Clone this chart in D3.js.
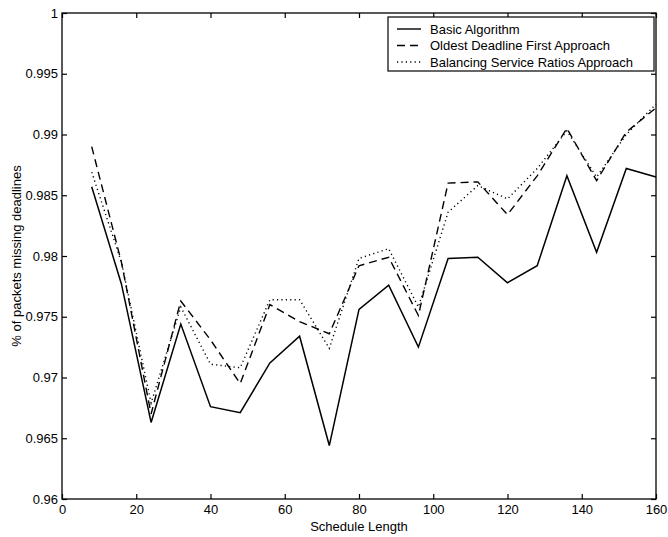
<html>
<head>
<title>packets missing deadlines</title>
<style>
  body { margin: 0; background: #fff; }
  text { font-family: "Liberation Sans", Arial, sans-serif; fill: #000; }
</style>
</head>
<body>
<script src="https://cdn.jsdelivr.net/npm/d3@7"></script>
<script>
// schedule lengths (x)
var scheduleLength = [8, 16, 24, 32, 40, 48, 56, 64, 72, 80, 88, 96, 104, 112, 120, 128, 136, 144, 152, 160];
// series values
var basicAlgorithm = [0.9857, 0.9777, 0.9663, 0.9744, 0.9676, 0.9671, 0.9712, 0.9734, 0.9644, 0.9756,
                      0.9776, 0.9725, 0.9798, 0.9799, 0.9778, 0.9792, 0.9866, 0.9803, 0.9872, 0.9865];
var oldestDeadline = [0.9890, 0.9795, 0.9670, 0.9763, 0.9731, 0.9695, 0.9760, 0.9746, 0.9736, 0.9792,
                      0.9799, 0.9751, 0.9860, 0.9861, 0.9834, 0.9866, 0.9905, 0.9862, 0.9902, 0.9922];
var balancingRatios = [0.9869, 0.9795, 0.9679, 0.9758, 0.9711, 0.9708, 0.9764, 0.9764, 0.9724, 0.9798,
                       0.9806, 0.9758, 0.9836, 0.9858, 0.9847, 0.9872, 0.9903, 0.9865, 0.9900, 0.9925];
var seriesNames = ["Basic Algorithm", "Oldest Deadline First Approach", "Balancing Service Ratios Approach"];
var xTicks = [0, 20, 40, 60, 80, 100, 120, 140, 160];
var yTicks = [0.96, 0.965, 0.97, 0.975, 0.98, 0.985, 0.99, 0.995, 1];

var width = 668, height = 537;
var margin = {top: 13, right: 12, bottom: 38, left: 62};

var svg = d3.select("body").append("svg").attr("width", width).attr("height", height);

var x = d3.scaleLinear().domain([0, 160]).range([margin.left, width - margin.right]);
var y = d3.scaleLinear().domain([0.96, 1]).range([height - margin.bottom, margin.top]);

var fmt = function(d){ return d == 1 ? "1" : String(+d.toFixed(3)); };

// frame
svg.append("rect")
  .attr("x", margin.left).attr("y", margin.top)
  .attr("width", x(160) - x(0)).attr("height", y(0.96) - y(1))
  .attr("fill", "none").attr("stroke", "#000").attr("stroke-width", 1.3);

// axes, ticks pointing inward (top/right too)
var xb = svg.append("g").attr("transform", "translate(0," + y(0.96) + ")")
  .call(d3.axisBottom(x).tickValues(xTicks).tickSize(-5).tickPadding(6).tickFormat(d3.format("d")));
var xt = svg.append("g").attr("transform", "translate(0," + y(1) + ")")
  .call(d3.axisTop(x).tickValues(xTicks).tickSize(-5).tickFormat(""));
var yl = svg.append("g").attr("transform", "translate(" + x(0) + ",0)")
  .call(d3.axisLeft(y).tickValues(yTicks).tickSize(-5).tickPadding(4).tickFormat(fmt));
var yr = svg.append("g").attr("transform", "translate(" + x(160) + ",0)")
  .call(d3.axisRight(y).tickValues(yTicks).tickSize(-5).tickFormat(""));
[xb, xt, yl, yr].forEach(function(g){
  g.select(".domain").remove();
  g.selectAll("line").attr("stroke", "#000").attr("stroke-width", 1.2);
  g.selectAll("text").attr("font-size", "13px").attr("fill", "#000")
    .attr("font-family", "'Liberation Sans', Arial, sans-serif");
});

// axis titles
svg.append("text").attr("x", x(80)).attr("y", 531).attr("text-anchor", "middle")
  .attr("font-size", "13px").text("Schedule Length");
svg.append("text").attr("transform", "translate(21," + y(0.98) + ") rotate(-90)")
  .attr("text-anchor", "middle").attr("font-size", "13px").text("% of packets missing deadlines");

// lines
var series = [basicAlgorithm, oldestDeadline, balancingRatios];
var dashes = [null, "8,5", "1.2,3.2"];
var line = d3.line().x(function(d, i){ return x(scheduleLength[i]); }).y(function(d){ return y(d); });

series.forEach(function(s, k){
  svg.append("path").datum(s)
    .attr("d", line)
    .attr("fill", "none")
    .attr("stroke", "#000")
    .attr("stroke-width", k == 0 ? 1.5 : 1.4)
    .attr("stroke-dasharray", dashes[k]);
});

// legend
var lg = svg.append("g");
lg.append("rect").attr("x", 388).attr("y", 17).attr("width", 266).attr("height", 54)
  .attr("fill", "#fff").attr("stroke", "#000").attr("stroke-width", 1.2);
seriesNames.forEach(function(name, k){
  var yy = 29 + k * 16.5;
  lg.append("line").attr("x1", 397).attr("x2", 421).attr("y1", yy).attr("y2", yy)
    .attr("stroke", "#000").attr("stroke-width", 1.4).attr("stroke-dasharray", dashes[k]);
  lg.append("text").attr("x", 430).attr("y", yy + 4.5).attr("font-size", "13px").text(name);
});
</script>
</body>
</html>
